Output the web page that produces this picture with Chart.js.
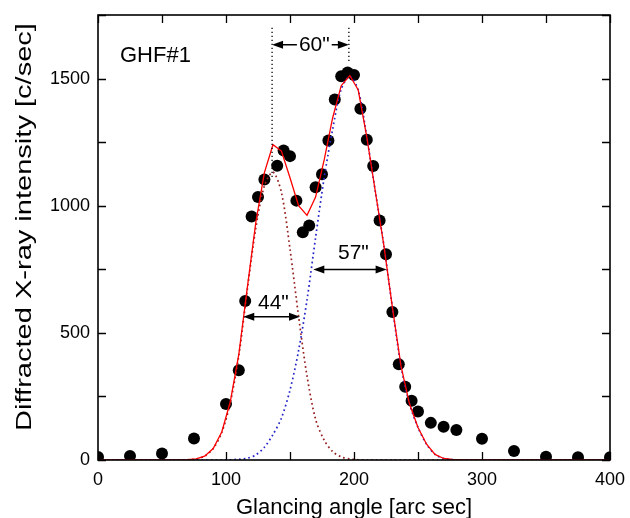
<!DOCTYPE html>
<html>
<head>
<meta charset="utf-8">
<title>GHF#1 rocking curve</title>
<script src="https://cdn.jsdelivr.net/npm/chart.js@4/dist/chart.umd.min.js"></script>
<style>
  html, body { margin: 0; padding: 0; background: #fff; }
</style>
</head>
<body>
<canvas id="chart" width="630" height="518"></canvas>
<script>
// measured points: glancing angle [arc sec] / intensity [c/sec]
var angle = [0, 25, 50, 75, 100, 110, 115, 120, 125, 130, 140, 145, 150, 155, 160, 165, 170, 175, 180, 185,
             190, 195, 200, 205, 210, 215, 220, 225, 230, 235, 240, 245, 250, 260, 270, 280, 300, 325, 350, 375, 400];
var intensity = [12, 16, 26, 85, 220, 353, 625, 958, 1034, 1103, 1157, 1217, 1195, 1020, 896, 922, 1073, 1124, 1256, 1418,
                 1509, 1524, 1514, 1381, 1259, 1156, 942, 809, 582, 377, 288, 233, 191, 146, 131, 118, 84, 35, 13, 11, 11];

// two-peak fit, sampled on its own angle grid
var fitAngle = [0, 40, 60, 70, 76.7, 83.3, 90, 96.7, 103.3, 110, 116.7, 123.3, 130, 136.7, 143.3, 150, 156.7, 163.3, 170, 176.7,
                183.3, 190, 196.7, 203.3, 210, 216.7, 223.3, 230, 236.7, 243.3, 250, 256.7, 263.3, 270, 276.7, 283.3, 300, 400];
var fitTotal = [0, 0, 0, 1, 4, 15, 45, 110, 228, 415, 680, 935, 1130, 1240, 1215, 1110, 1000, 962, 1034, 1180,
                1345, 1472, 1512, 1455, 1270, 1055, 845, 600, 370, 222, 128, 62, 22, 6, 2, 0, 0, 0];
var fitPeak1 = [0, 0, 0, 1, 4, 15, 45, 108, 224, 410, 672, 912, 1078, 1132, 1052, 830, 565, 330, 160, 78,
                33, 12, 4, 1, 0, 0, 0, 0, 0, 0, 0, 0, 0, 0, 0, 0, 0, 0];
var fitPeak2 = [0, 0, 0, 0, 0, 0, 0, 0, 1, 3, 7, 20, 50, 100, 165, 275, 430, 630, 875, 1110,
                1300, 1458, 1508, 1455, 1270, 1055, 845, 600, 370, 222, 128, 62, 22, 6, 2, 0, 0, 0];

var xTicks = [0, 100, 200, 300, 400];
var yTicks = [0, 500, 1000, 1500];

// peak positions and widths marked on the plot
var peakAngle = [136, 196];
var sepText = '60"';
var fwhmText = ['44"', '57"'];
var fwhmFrom = [113.5, 168.2];
var fwhmTo = [157.8, 225.5];
var fwhmLevel = [563, 749];
var fwhmTextAt = [[137, 618], [199.5, 813]];

var FONT = '"Liberation Sans", Arial, Helvetica, sans-serif';

function pairs(xs, ys) {
  return xs.map(function (x, i) { return { x: x, y: ys[i] }; });
}

function arrowHead(ctx, x, y, dir) {
  ctx.beginPath();
  ctx.moveTo(x, y);
  ctx.lineTo(x - dir * 11, y - 4);
  ctx.lineTo(x - dir * 11, y + 4);
  ctx.closePath();
  ctx.fill();
}

var decorations = {
  id: 'decorations',
  afterDraw: function (chart) {
    var ctx = chart.ctx;
    var a = chart.chartArea;
    var xs = chart.scales.x, ys = chart.scales.y;
    ctx.save();
    ctx.strokeStyle = '#000';
    ctx.fillStyle = '#000';

    // inward tick marks on all four sides
    ctx.lineWidth = 1.3;
    ctx.beginPath();
    for (var v = 0; v <= 400; v += 50) {
      var px = Math.round(xs.getPixelForValue(v)) + 0.5;
      ctx.moveTo(px, a.bottom); ctx.lineTo(px, a.bottom - 8);
      ctx.moveTo(px, a.top); ctx.lineTo(px, a.top + 8);
    }
    for (var w = 0; w <= 1750; w += 250) {
      var py = Math.round(ys.getPixelForValue(w)) + 0.5;
      ctx.moveTo(a.left, py); ctx.lineTo(a.left + 8, py);
      ctx.moveTo(a.right, py); ctx.lineTo(a.right - 8, py);
    }
    ctx.stroke();

    // frame
    ctx.lineWidth = 1.6;
    ctx.strokeRect(a.left, a.top, a.right - a.left, a.bottom - a.top);

    // dotted markers at the two peaks
    ctx.lineWidth = 1.3;
    ctx.setLineDash([1.4, 2.6]);
    var p1 = xs.getPixelForValue(peakAngle[0]);
    var p2 = xs.getPixelForValue(peakAngle[1]);
    ctx.beginPath();
    ctx.moveTo(p1, ys.getPixelForValue(1700)); ctx.lineTo(p1, ys.getPixelForValue(1110));
    ctx.moveTo(p2, ys.getPixelForValue(1700)); ctx.lineTo(p2, ys.getPixelForValue(1560));
    ctx.stroke();
    ctx.setLineDash([]);

    // peak separation
    ctx.font = '21px ' + FONT;
    ctx.textAlign = 'center';
    ctx.textBaseline = 'middle';
    var sy = ys.getPixelForValue(1633);
    var sx = xs.getPixelForValue(169);
    var half = ctx.measureText(sepText).width / 2;
    ctx.fillText(sepText, sx, sy);
    ctx.lineWidth = 1.5;
    ctx.beginPath();
    ctx.moveTo(sx - half - 2, sy); ctx.lineTo(p1 + 6, sy);
    ctx.moveTo(sx + half + 2, sy); ctx.lineTo(p2 - 6, sy);
    ctx.stroke();
    arrowHead(ctx, p1, sy, -1);
    arrowHead(ctx, p2, sy, 1);

    // FWHM of each peak
    for (var i = 0; i < fwhmText.length; i++) {
      var ly = ys.getPixelForValue(fwhmLevel[i]);
      var lx1 = xs.getPixelForValue(fwhmFrom[i]);
      var lx2 = xs.getPixelForValue(fwhmTo[i]);
      ctx.beginPath();
      ctx.moveTo(lx1 + 6, ly); ctx.lineTo(lx2 - 6, ly);
      ctx.stroke();
      arrowHead(ctx, lx1, ly, -1);
      arrowHead(ctx, lx2, ly, 1);
      ctx.fillText(fwhmText[i], xs.getPixelForValue(fwhmTextAt[i][0]), ys.getPixelForValue(fwhmTextAt[i][1]));
    }

    // sample name
    ctx.font = '22px ' + FONT;
    ctx.textAlign = 'left';
    ctx.fillText('GHF#1', a.left + 22, a.top + 41);

    // axis titles
    ctx.font = '22px ' + FONT;
    ctx.textAlign = 'center';
    ctx.textBaseline = 'alphabetic';
    ctx.fillText('Glancing angle [arc sec]', (a.left + a.right) / 2, 514);
    ctx.translate(31, 227);
    ctx.rotate(-Math.PI / 2);
    ctx.scale(1.32, 1);
    ctx.fillText('Diffracted X-ray intensity [c/sec]', 0, 0);
    ctx.restore();
  }
};

var chart = new Chart(document.getElementById('chart'), {
  type: 'scatter',
  data: {
    datasets: [
      {
        label: 'fit',
        data: pairs(fitAngle, fitTotal),
        showLine: true,
        borderColor: '#ff0000',
        borderWidth: 1.3,
        pointRadius: 0,
        tension: 0
      },
      {
        label: 'peak 2',
        data: pairs(fitAngle, fitPeak2),
        showLine: true,
        borderColor: '#2424c8',
        borderWidth: 1.7,
        borderDash: [1.7, 3],
        pointRadius: 0,
        tension: 0.3
      },
      {
        label: 'peak 1',
        data: pairs(fitAngle, fitPeak1),
        showLine: true,
        borderColor: '#962020',
        borderWidth: 1.7,
        borderDash: [1.7, 3],
        pointRadius: 0,
        tension: 0.3
      },
      {
        label: 'measured',
        data: pairs(angle, intensity),
        showLine: false,
        pointRadius: 6,
        pointBackgroundColor: '#000',
        pointBorderWidth: 0
      }
    ]
  },
  options: {
    responsive: false,
    animation: false,
    devicePixelRatio: 1,
    layout: { padding: { top: 15, right: 20, left: 0, bottom: 0 } },
    plugins: { legend: { display: false }, tooltip: { enabled: false } },
    scales: {
      x: {
        type: 'linear',
        min: 0,
        max: 400,
        grid: { display: false, drawTicks: false },
        border: { display: false },
        afterBuildTicks: function (s) { s.ticks = xTicks.map(function (v) { return { value: v }; }); },
        afterFit: function (s) { s.height = 58; s.paddingLeft = 0; s.paddingRight = 0; },
        ticks: { color: '#000', padding: 9, maxRotation: 0, font: { family: FONT, size: 18 },
                 callback: function (v) { return String(v); } }
      },
      y: {
        type: 'linear',
        min: 0,
        max: 1750,
        grid: { display: false, drawTicks: false },
        border: { display: false },
        afterBuildTicks: function (s) { s.ticks = yTicks.map(function (v) { return { value: v }; }); },
        afterFit: function (s) { s.width = 98; s.paddingTop = 0; s.paddingBottom = 0; },
        ticks: { color: '#000', padding: 8, font: { family: FONT, size: 18 },
                 callback: function (v) { return String(v); } }
      }
    }
  },
  plugins: [decorations]
});
</script>
</body>
</html>
